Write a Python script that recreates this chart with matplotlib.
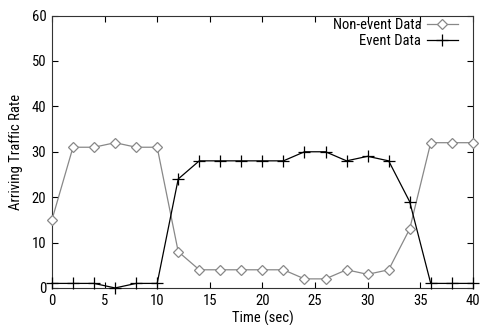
import matplotlib
matplotlib.use("Agg")
import matplotlib.pyplot as plt

plt.rcParams['font.family'] = ['Roboto Condensed', 'Liberation Sans', 'DejaVu Sans']

time = [0, 2, 4, 6, 8, 10, 12, 14, 16, 18, 20, 22, 24, 26, 28, 30, 32, 34, 36, 38, 40]
non_event = [15, 31, 31, 32, 31, 31, 8, 4, 4, 4, 4, 4, 2, 2, 4, 3, 4, 13, 32, 32, 32]
event = [1, 1, 1, 0, 1, 1, 24, 28, 28, 28, 28, 28, 30, 30, 28, 29, 28, 19, 1, 1, 1]
xticks = [0, 5, 10, 15, 20, 25, 30, 35, 40]
yticks = [0, 10, 20, 30, 40, 50, 60]

fig = plt.figure(figsize=(4.81, 3.25), dpi=100)
ax = fig.add_axes([0.108, 0.114, 0.875, 0.838])

ax.plot(time, non_event, color='#888888', lw=0.9, marker='D', markersize=5.5,
        markerfacecolor='white', markeredgecolor='#888888', markeredgewidth=0.9,
        label='Non-event Data', clip_on=False, zorder=3)
ax.plot(time, event, color='black', lw=0.9, marker='+', markersize=8,
        markeredgewidth=0.9, label='Event Data', clip_on=False, zorder=3)

ax.set_xlim(0, 40)
ax.set_ylim(0, 60)
ax.set_xticks(xticks)
ax.set_yticks(yticks)
ax.tick_params(direction='in', top=True, right=True, labelsize=10.5, length=4, width=0.8, pad=4)
for s in ax.spines.values():
    s.set_linewidth(0.8)
    s.set_color('#333333')

ax.set_xlabel('Time (sec)', fontsize=10.5, labelpad=2)
ax.set_ylabel('Arriving Traffic Rate', fontsize=10.5, labelpad=6)

leg = ax.legend(loc='upper right', frameon=False, markerfirst=False, fontsize=10.5,
                handlelength=2.1, borderaxespad=0, borderpad=0, labelspacing=0.1,
                handletextpad=0.4, bbox_to_anchor=(0.964, 0.99))
for t in leg.get_texts():
    t.set_ha('right')

fig.savefig('out.png', dpi=100)
